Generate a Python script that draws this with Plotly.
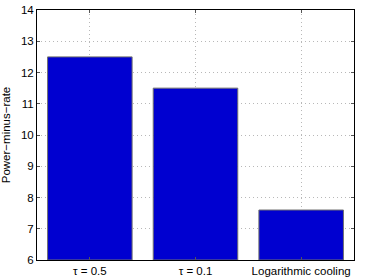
import plotly.graph_objects as go

categories = ["τ = 0.5", "τ = 0.1", "Logarithmic cooling"]
values = [12.5, 11.5, 7.6]
y_ticks = [6, 7, 8, 9, 10, 11, 12, 13, 14]

fig = go.Figure()
fig.add_trace(go.Bar(
    x=[0, 1, 2], y=[v - 6 for v in values], base=6,
    width=0.8,
    marker=dict(color="#0000D0", line=dict(color="#707070", width=1)),
    hoverinfo="skip",
))

font = dict(family="Liberation Sans, Arial, sans-serif", size=11.5, color="#000000")
tfont = dict(family="Liberation Sans, Arial, sans-serif", size=11.5, color="#000000")
fig.update_layout(
    width=374, height=279,
    margin=dict(l=37, r=20, t=10, b=19),
    paper_bgcolor="white", plot_bgcolor="white",
    showlegend=False,
    font=font,
)
grid = dict(showgrid=True, gridcolor="#b8b8b8", griddash="1px,3px", gridwidth=1,
            showline=True, linecolor="#000000", linewidth=1, mirror="ticks",
            ticks="inside", ticklen=3, tickcolor="#555555",
            zeroline=False, tickfont=tfont, automargin=False)
fig.update_xaxes(
    range=[-0.5, 2.5],
    tickmode="array", tickvals=[0, 1, 2], ticktext=categories,
    **grid,
)
fig.update_yaxes(
    range=[6, 14],
    tickmode="array", tickvals=y_ticks, ticktext=[str(t) for t in y_ticks],
    title=dict(text="Power−minus−rate", font=font, standoff=7),
    **grid,
)
fig.write_html("out.html", config={"displayModeBar": False},
               post_script="document.body.style.margin='0';document.body.style.padding='0';")
